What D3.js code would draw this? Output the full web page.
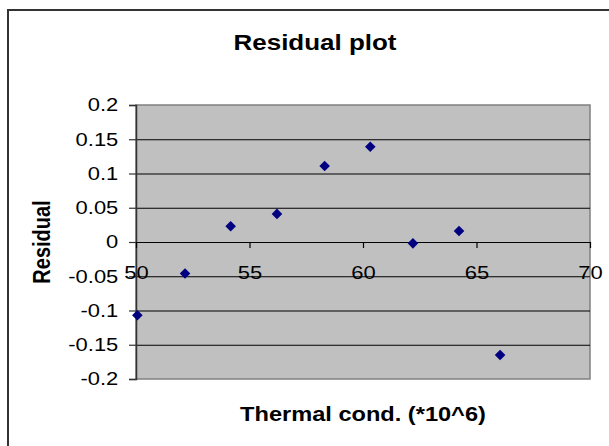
<!DOCTYPE html>
<html>
<head>
<meta charset="utf-8">
<script src="https://cdn.jsdelivr.net/npm/d3@7"></script>
<style>
  body { margin: 0; background: #fff; }
  svg { display: block; font-family: "Liberation Sans", Arial, sans-serif; }
</style>
</head>
<body>
<script>
// residuals
var thermalCond = [50.06, 52.16, 54.17, 56.21, 58.31, 60.32, 62.2, 64.23, 66.04];
var residuals = [-0.107, -0.046, 0.023, 0.041, 0.111, 0.139, -0.002, 0.016, -0.165];
var xTicks = [50, 55, 60, 65, 70];
var yTicks = [-0.2, -0.15, -0.1, -0.05, 0, 0.05, 0.1, 0.15, 0.2];

var width = 609, height = 446;
var stretch = 1.18; // the original image is stretched sideways

var svg = d3.select("body").append("svg")
    .attr("width", width)
    .attr("height", height);

// chart frame, runs off the right and bottom edges
svg.append("rect")
    .attr("x", 8).attr("y", 10)
    .attr("width", 640).attr("height", 480)
    .attr("fill", "#fff")
    .attr("stroke", "#333")
    .attr("stroke-width", 2);

var plot = {left: 136, top: 105, right: 590, bottom: 379};

var x = d3.scaleLinear().domain([50, 70]).range([plot.left, plot.right]);
var y = d3.scaleLinear().domain([-0.2, 0.2]).range([plot.bottom, plot.top]);

svg.append("rect")
    .attr("x", plot.left).attr("y", plot.top)
    .attr("width", plot.right - plot.left)
    .attr("height", plot.bottom - plot.top)
    .attr("fill", "#c0c0c0")
    .attr("stroke", "#808080")
    .attr("stroke-width", 1.5);

// gridlines
svg.append("g")
    .attr("transform", "translate(" + plot.left + ",0)")
    .call(d3.axisLeft(y).tickValues(yTicks.filter(function(d){ return d > -0.2 && d < 0.2; }))
        .tickSize(-(plot.right - plot.left)).tickFormat(""))
    .call(function(g){ g.select(".domain").remove(); })
    .selectAll("line").attr("stroke", "#000").attr("stroke-width", 1);

// y axis (plain hyphen for negatives, like Excel)
var yAxis = svg.append("g")
    .attr("transform", "translate(" + plot.left + ",0)")
    .call(d3.axisLeft(y).tickValues(yTicks).tickSize(7)
        .tickFormat(function(d){ return String(+d.toFixed(2)); }));
yAxis.select(".domain").attr("stroke", "#333").attr("stroke-width", 1.5);
yAxis.selectAll("line").attr("stroke", "#333").attr("stroke-width", 1.2);
yAxis.selectAll("text")
    .attr("x", -15)
    .attr("transform", "scale(" + stretch + ",1)")
    .attr("font-size", 18.6)
    .attr("font-family", "Liberation Sans, Arial, sans-serif")
    .attr("fill", "#000");

// x axis sits on the zero line
var xAxis = svg.append("g")
    .attr("transform", "translate(0," + y(0) + ")")
    .call(d3.axisBottom(x).tickValues(xTicks).tickSize(6).tickSizeOuter(0));
xAxis.select(".domain").attr("stroke", "#000").attr("stroke-width", 1.2);
xAxis.selectAll("line").attr("stroke", "#000").attr("stroke-width", 1.2);
xAxis.selectAll("text")
    .attr("y", 23.5)
    .attr("transform", "scale(" + stretch + ",1)")
    .attr("font-size", 18.6)
    .attr("font-family", "Liberation Sans, Arial, sans-serif")
    .attr("fill", "#000");

// points
svg.selectAll(".pt")
    .data(thermalCond)
    .enter()
    .append("path")
    .attr("class", "pt")
    .attr("d", d3.symbol(d3.symbolSquare, 56))
    .attr("transform", function(d, i){
        return "translate(" + x(d) + "," + y(residuals[i]) + ") rotate(45)";
    })
    .attr("fill", "#000080");

// titles
function label(txt, tx, ty, size, rot) {
    svg.append("text")
        .attr("transform", "translate(" + tx + "," + ty + ") scale(" + stretch + ",1)" + (rot ? " rotate(" + rot + ")" : ""))
        .attr("text-anchor", "middle")
        .attr("font-size", size)
        .attr("font-weight", "bold")
        .attr("fill", "#000")
        .text(txt);
}
label("Residual plot", 315, 50, 22);
label("Thermal cond. (*10^6)", 363, 421, 20);
label("Residual", 50, 242, 20, -90);
</script>
</body>
</html>
